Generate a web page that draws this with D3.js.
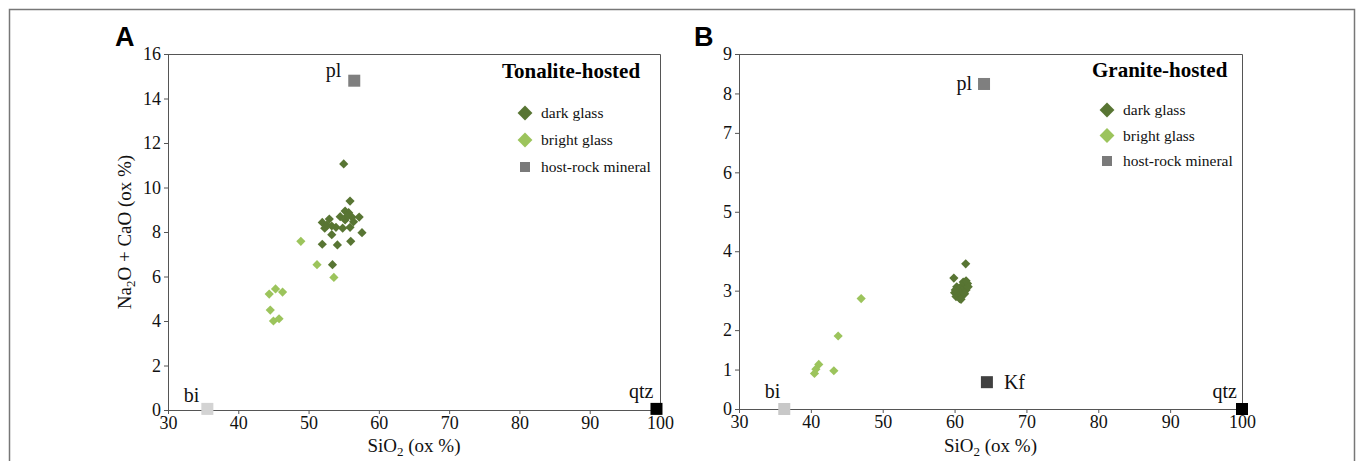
<!DOCTYPE html>
<html><head><meta charset="utf-8">
<script src="https://cdn.jsdelivr.net/npm/d3@7"></script>
<style>body{margin:0;background:#fff}svg{display:block}</style>
</head><body>
<svg id="c" width="1358" height="461"></svg>
<script>
// ---------- DATA ----------
const xTicks = [30,40,50,60,70,80,90,100];
const yTicksA = [0,2,4,6,8,10,12,14,16];
const yTicksB = [0,1,2,3,4,5,6,7,8,9];
const legendLabels = ["dark glass","bright glass","host-rock mineral"];

// Panel A: Tonalite-hosted  [SiO2, Na2O+CaO]
const darkA = [[55.0,11.06],[55.9,9.39],[55.2,8.94],[55.7,8.87],[54.5,8.69],[52.95,8.58],[51.95,8.43],
  [56.2,8.66],[57.2,8.67],[55.2,8.54],[56.4,8.46],[52.3,8.17],[53.3,8.27],[53.9,8.21],[54.85,8.17],
  [55.9,8.21],[53.3,7.88],[57.6,7.97],[51.95,7.45],[54.1,7.42],[56.0,7.58],[53.4,6.53],[52.6,8.31],[55.5,8.72]];
const brightA = [[48.9,7.58],[51.2,6.53],[53.6,5.96],[45.3,5.44],[44.4,5.21],[46.3,5.30],[44.55,4.49],[45.0,4.0],[45.8,4.10]];
const mineralsA = [
  {name:"pl", x:56.5, y:14.8, color:"#7f7f7f"},
  {name:"bi", x:35.6, y:0.05, color:"#d3d3d3"},
  {name:"qtz", x:99.5, y:0.05, color:"#000000"}];

// Panel B: Granite-hosted
const darkB = [[61.55,3.68],[59.9,3.32],[60.0,2.95],[60.2,2.85],[60.4,3.0],[60.5,2.9],[60.6,3.05],[60.7,2.8],
  [60.8,2.95],[60.9,3.1],[61.0,2.88],[61.1,3.0],[61.2,3.15],[61.3,2.95],[61.4,3.08],[61.5,3.2],[61.6,3.02],
  [61.7,3.12],[61.8,3.18],[61.9,3.1],[60.3,3.1],[60.9,2.78],[61.2,3.22],[61.6,3.25],[60.1,3.02],[61.4,2.92]];
const brightB = [[47.0,2.8],[43.8,1.85],[41.1,1.13],[40.7,1.01],[40.5,0.90],[43.2,0.97]];
const mineralsB = [
  {name:"pl", x:64.1, y:8.24, color:"#7f7f7f"},
  {name:"bi", x:36.3, y:0.0, color:"#c8c8c8"},
  {name:"Kf", x:64.5, y:0.68, color:"#404040"},
  {name:"qtz", x:100.0, y:0.0, color:"#000000"}];

// ---------- STYLE ----------
const DARK = "#587533", BRIGHT = "#9cc45c", LEG_MIN = "#7a7a7a";
const serif = "'Liberation Serif','Times New Roman',serif";
const svg = d3.select("#c");

// outer frame
svg.append("path").attr("d","M9.5,470 V9.5 H1354.5 V470").attr("fill","none").attr("stroke","#777").attr("stroke-width",1.5);

function diamond(g, cx, cy, s, color){
  g.append("rect").attr("x",-s/2).attr("y",-s/2).attr("width",s).attr("height",s)
   .attr("transform",`translate(${cx},${cy}) rotate(45)`).attr("fill",color);
}

function panel(cfg){
  const x = d3.scaleLinear().domain([30,100]).range([cfg.left,cfg.right]);
  const y = d3.scaleLinear().domain([0,cfg.ymax]).range([cfg.bottom,cfg.top]);
  const g = svg.append("g");
  // border top/right
  g.append("path").attr("d",`M${cfg.left},${cfg.top+0.5} H${cfg.right+0.5} V${cfg.bottom}`)
   .attr("fill","none").attr("stroke","#555").attr("stroke-width",1);
  const ax = g.append("g").attr("transform",`translate(0,${cfg.bottom})`)
    .call(d3.axisBottom(x).tickValues(xTicks).tickSize(4).tickPadding(2));
  const ay = g.append("g").attr("transform",`translate(${cfg.left},0)`)
    .call(d3.axisLeft(y).tickValues(cfg.yTicks).tickSize(4).tickPadding(3));
  [ax,ay].forEach(a=>{
    a.select(".domain").attr("stroke","#555");
    a.selectAll(".tick line").attr("stroke","#555");
    a.selectAll("text").attr("font-family",serif).attr("font-size",18).attr("fill","#111");
  });
  // axis titles
  const xt = g.append("text").attr("x",(cfg.left+cfg.right)/2).attr("y",452)
    .attr("text-anchor","middle").attr("font-family",serif).attr("font-size",19).attr("fill","#111");
  xt.append("tspan").text("SiO");
  xt.append("tspan").text("2").attr("font-size",13).attr("dy",4);
  xt.append("tspan").text(" (ox %)").attr("dy",-4);
  if(cfg.ylabel){
    const yt = g.append("text").attr("transform",`translate(${cfg.left-37},${(cfg.top+cfg.bottom)/2}) rotate(-90)`)
      .attr("text-anchor","middle").attr("font-family",serif).attr("font-size",19).attr("fill","#111");
    yt.append("tspan").text("Na");
    yt.append("tspan").text("2").attr("font-size",13).attr("dy",4);
    yt.append("tspan").text("O + CaO (ox %)").attr("dy",-4);
  }
  // panel letter
  g.append("text").attr("x",cfg.letterX).attr("y",46).text(cfg.letter)
   .attr("font-family","'Liberation Sans',Arial,sans-serif").attr("font-weight","bold").attr("font-size",27).attr("fill","#000");
  // points
  cfg.bright.forEach(d=>diamond(g,x(d[0]),y(d[1]),6.5,BRIGHT));
  cfg.dark.forEach(d=>diamond(g,x(d[0]),y(d[1]),6.5,DARK));
  cfg.minerals.forEach(m=>{
    g.append("rect").attr("x",x(m.x)-6).attr("y",y(m.y)-6).attr("width",12).attr("height",12).attr("fill",m.color);
    const lp = cfg.labelPos[m.name];
    g.append("text").attr("x",x(m.x)+lp[0]).attr("y",y(m.y)+lp[1]).attr("text-anchor",lp[2]).text(m.name)
     .attr("font-family",serif).attr("font-size",20).attr("fill","#111");
  });
  // legend
  g.append("text").attr("x",cfg.titleX).attr("y",cfg.legY).text(cfg.title)
   .attr("font-family",serif).attr("font-weight","bold").attr("font-size",21).attr("fill","#000");
  legendLabels.forEach((l,i)=>{
    const cy = cfg.legY+cfg.legY0+i*cfg.legStep;
    if(i<2) diamond(g,cfg.legX,cy,10.5,i===0?DARK:BRIGHT);
    else g.append("rect").attr("x",cfg.legX-5).attr("y",cy-5).attr("width",10).attr("height",10).attr("fill",LEG_MIN);
    g.append("text").attr("x",cfg.legX+16).attr("y",cy+5).text(l)
     .attr("font-family",serif).attr("font-size",15.5).attr("fill","#111");
  });
}

panel({left:168,right:660,top:54,bottom:410,ymax:16,yTicks:yTicksA,ylabel:true,letter:"A",letterX:115,
  dark:darkA,bright:brightA,minerals:mineralsA,title:"Tonalite-hosted",titleX:502,legX:525,legY:78,legY0:35,legStep:27,
  labelPos:{pl:[-13,-4,"end"],bi:[-8,-7,"end"],qtz:[-3,-11,"end"]}});
panel({left:739,right:1242,top:54,bottom:409,ymax:9,yTicks:yTicksB,ylabel:false,letter:"B",letterX:694,
  dark:darkB,bright:brightB,minerals:mineralsB,title:"Granite-hosted",titleX:1092,legX:1107,legY:77,legY0:33,legStep:25.5,
  labelPos:{pl:[-12,6,"end"],bi:[-4,-11,"end"],Kf:[17,7,"start"],qtz:[-5,-11,"end"]}});
</script>
</body></html>
